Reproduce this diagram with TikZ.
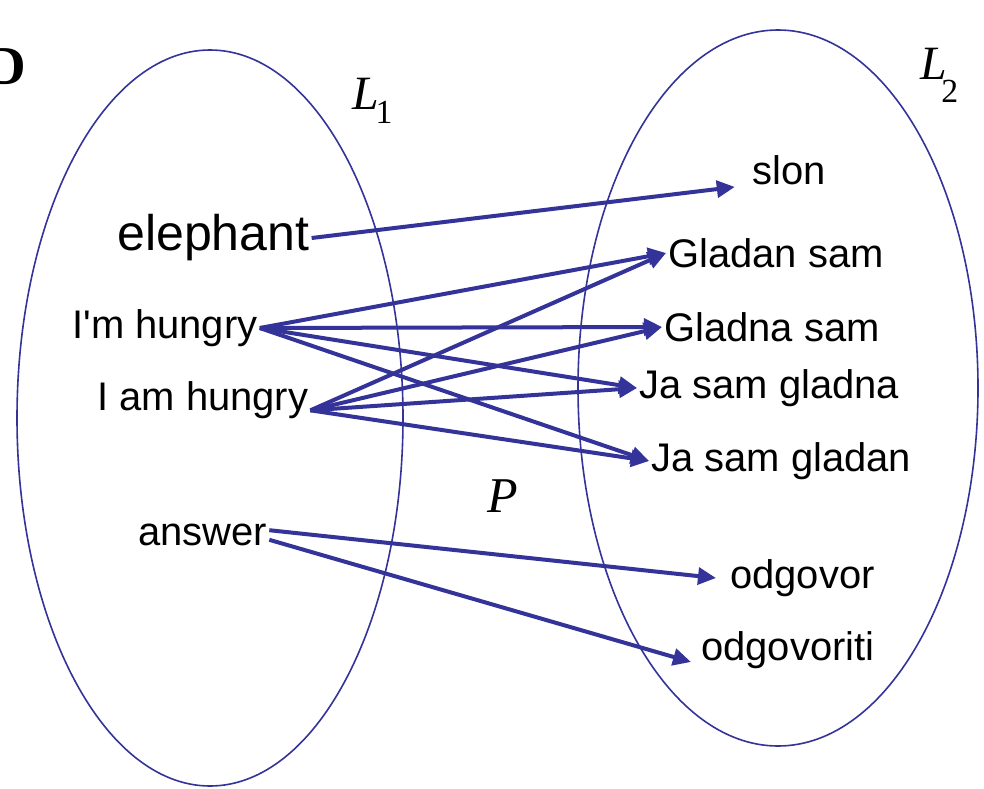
\documentclass[tikz,border=0pt]{standalone}
\usepackage{fontspec}
\setmainfont{Liberation Sans}[Ligatures=TeXOff]
\newfontfamily\timesfont{Liberation Serif}
\usetikzlibrary{arrows.meta}
\definecolor{mapblue}{RGB}{51,51,153}
\tikzset{
 setline/.style={draw=mapblue,line width=0.04cm},
 word/.style={anchor=west,inner sep=0.05cm,font=\fontsize{28.4}{34}\selectfont},
 setname/.style={anchor=base west,inner sep=0pt,font=\timesfont\itshape\fontsize{34}{40}\selectfont},
 map/.style={-{Triangle[length=0.45cm,width=0.42cm]},line width=0.1cm,draw=mapblue}}

\begin{document}
\begin{tikzpicture}[x=0.025cm,y=-0.025cm]
\useasboundingbox (0,0) rectangle (984,788);
% the two sets
\draw[setline] (210,418) ellipse [x radius=193,y radius=368];
\draw[setline] (778,388) ellipse [x radius=200,y radius=358];
\node[anchor=east,inner sep=0pt,font=\timesfont\bfseries\fontsize{39}{44}\selectfont] (frag) at (26,67) {D};
\node[setname] (lone) at (352,110) {L\kern-0.08cm\raisebox{-0.33cm}{\upshape\fontsize{24}{28}\selectfont 1}};
\node[setname] (ltwo) at (920,80) {L\kern-0.14cm\raisebox{-0.55cm}{\upshape\fontsize{24}{28}\selectfont 2}};
\node[setname,font=\timesfont\itshape\fontsize{35.6}{42}\selectfont] (prel) at (487,512) {P};
% words of L1
\node[word,font=\fontsize{35.6}{42}\selectfont] (elephant) at (115,238) {elephant};
\node[word] (imhungry) at (70,328) {I'm hungry};
\node[word] (iamhungry) at (95,400) {I am hungry};
\node[word] (answer) at (136,535) {answer};
% words of L2
\node[word] (slon) at (750,170) {slon};
\node[word] (gladansam) at (666,253) {Gladan sam};
\node[word] (gladnasam) at (662,327) {Gladna sam};
\node[word] (jasamgladna) at (637,388) {Ja sam gladna};
\node[word] (jasamgladan) at (649,461) {Ja sam gladan};
\node[word] (odgovor) at (728,578) {odgovor};
\node[word] (odgovoriti) at (699,650) {odgovoriti};
% the relation
\draw[map] (elephant.east) -- ([xshift=-0.38cm]slon.south west);
\draw[map] (imhungry.east) -- (gladansam.west);
\draw[map] (imhungry.east) -- (gladnasam.west);
\draw[map] (imhungry.east) -- (jasamgladna.west);
\draw[map] (imhungry.east) -- (jasamgladan.west);
\draw[map] (iamhungry.base east) -- (gladansam.west);
\draw[map] (iamhungry.base east) -- (gladnasam.west);
\draw[map] (iamhungry.base east) -- (jasamgladna.west);
\draw[map] (iamhungry.base east) -- (jasamgladan.west);
\draw[map] ([yshift=0.12cm]answer.east) -- ([xshift=-0.3cm]odgovor.west);
\draw[map] ([yshift=-0.12cm]answer.east) -- ([xshift=-0.2cm,yshift=-0.3cm]odgovoriti.west);
\end{tikzpicture}
\end{document}
